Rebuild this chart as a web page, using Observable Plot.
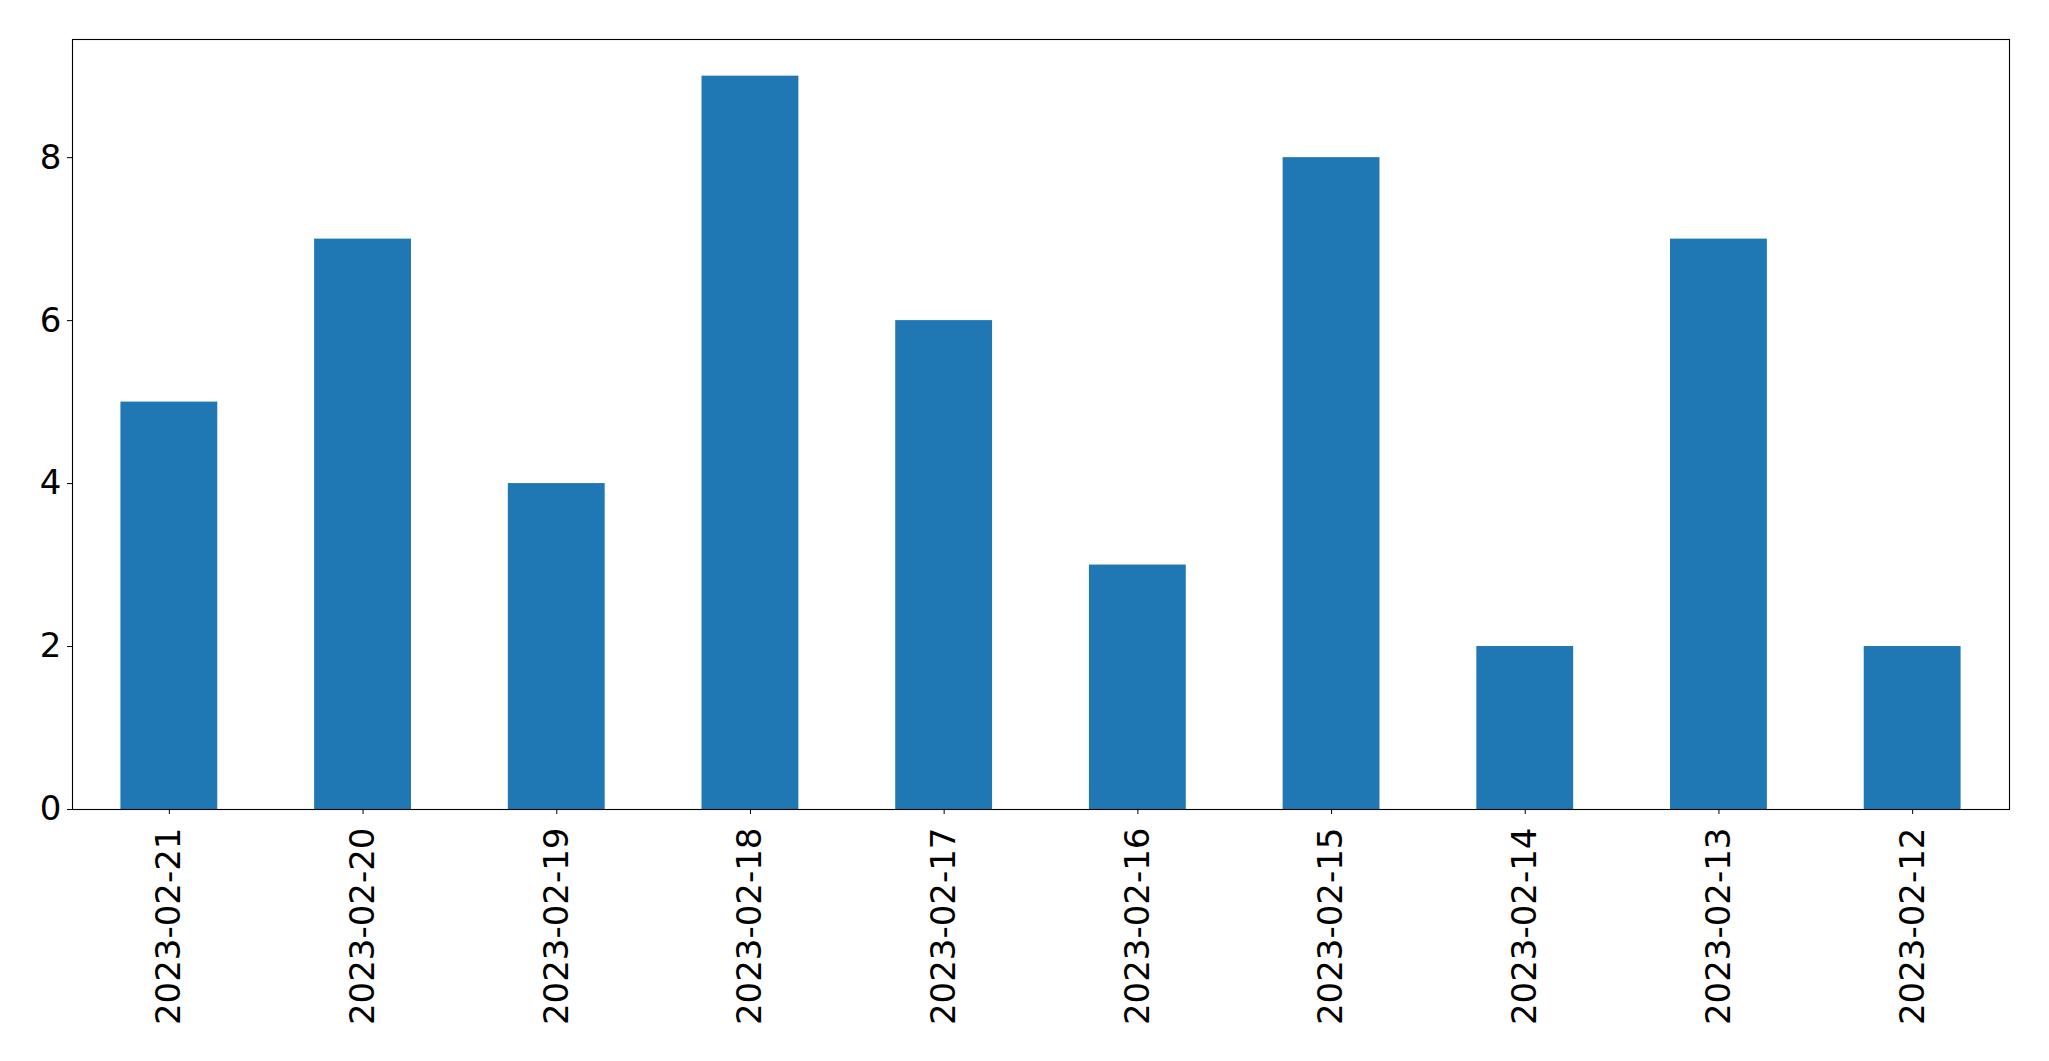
<!DOCTYPE html>
<html>
<head>
<meta charset="utf-8">
<script src="https://cdn.jsdelivr.net/npm/d3@7"></script>
<script src="https://cdn.jsdelivr.net/npm/@observablehq/plot@0.6"></script>
<style>
  html, body { margin: 0; padding: 0; background: #fff; }
  #chart svg { display: block; }
</style>
</head>
<body>
<div id="chart"></div>
<script>
const dates = ["2023-02-21","2023-02-20","2023-02-19","2023-02-18","2023-02-17","2023-02-16","2023-02-15","2023-02-14","2023-02-13","2023-02-12"];
const counts = [5, 7, 4, 9, 6, 3, 8, 2, 7, 2];
const yTicks = [0, 2, 4, 6, 8];

const data = dates.map((d, i) => ({date: d, count: counts[i]}));

const chart = Plot.plot({
  width: 2049,
  height: 1061,
  marginLeft: 72,
  marginRight: 40,
  marginTop: 39,
  marginBottom: 252,
  style: {fontFamily: "DejaVu Sans", background: "#fff", color: "#000"},
  x: {domain: dates, paddingInner: 0.5, paddingOuter: 0.25, round: false, label: null},
  y: {domain: [0, 9.45], label: null},
  marks: [
    Plot.barY(data, {x: "date", y: "count", fill: "#1f77b4"}),
    Plot.axisY({ticks: yTicks, tickSize: 5, tickPadding: 6, fontSize: 34, label: null, tickFormat: d => String(d)}),
    Plot.axisX({tickSize: 5, tickPadding: 13, fontSize: 34, tickRotate: -90, label: null}),
    Plot.frame({stroke: "#000", strokeWidth: 1.1})
  ]
});
document.getElementById("chart").appendChild(chart);
</script>
</body>
</html>
